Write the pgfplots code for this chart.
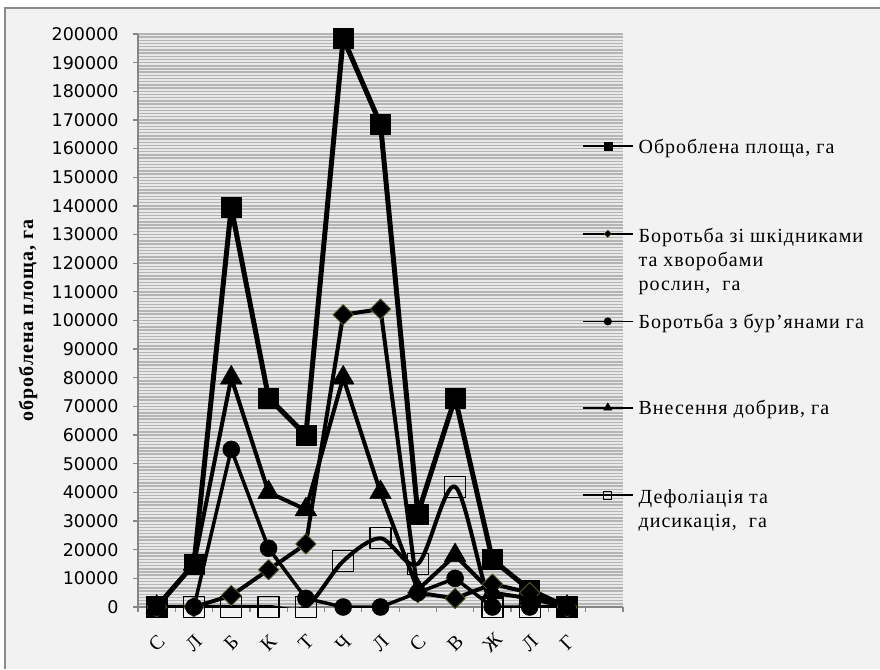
\documentclass[border=0pt]{standalone}
\usepackage{fontspec}
\setmainfont{Liberation Serif}
\newfontfamily\numfont{DejaVu Sans}
\newfontfamily\legendfont[LetterSpace=5]{Liberation Serif}
\newfontfamily\labelfont[LetterSpace=5]{Liberation Serif}
\usepackage{pgfplots}
\usepackage{pgfplotstable}
\pgfplotsset{compat=1.18}

\definecolor{chartbg}{HTML}{F2F2F2}
\definecolor{framegray}{HTML}{8C8C8C}
\definecolor{stripe}{HTML}{B4B4B4}
\definecolor{stripebg}{HTML}{E8E8E8}
\definecolor{axisgray}{HTML}{868686}
\definecolor{diamondedge}{HTML}{4F6228}

% multi-line legend text hanging from its first baseline
\newcommand\hang[1]{\raisebox{0pt}[\height][0pt]{\begin{tabular}[t]{@{}l@{}}#1\end{tabular}}}

% Monthly treated area, ha
\pgfplotstableread{
idx total pests weeds fert defol
0   0      0      0     0     0
1   15000  0      0     15000 0
2   139500 4000   55000 80000 0
3   73000  13000  20500 40000 0
4   60000  22000  3000  34000 0
5   198500 102000 0     80000 16000
6   168500 104000 0     40000 24000
7   32500  5000   5000  6000  15000
8   73000  3000   10000 18000 42000
9   16500  8000   0     5000  0
10  6000   5000   0     3000  0
11  0      0      0     0     0
}\areadata

\begin{document}
\begin{tikzpicture}
\useasboundingbox (0,0) rectangle (880pt,669pt);
\fill[white] (0,0) rectangle (880pt,669pt);
\fill[chartbg] (5pt,0) rectangle (880pt,661pt);
\draw[framegray, line width=2pt] (5pt,0) -- (5pt,661pt) -- (880pt,661pt);

\begin{axis}[
  at={(138pt,62pt)}, anchor=south west,
  scale only axis, width=485pt, height=573pt,
  xmin=-0.5, xmax=12.5, ymin=0, ymax=200000,
  axis background/.style={fill=stripebg},
  axis x line*=bottom, axis y line*=left,
  axis line style={axisgray, line width=1.3pt},
  tick style={axisgray, line width=1.3pt},
  tick align=outside,
  major tick length=5pt, minor tick length=5pt,
  ytick={0,10000,...,200000},
  yticklabels={0,10000,20000,30000,40000,50000,60000,70000,80000,90000,100000,
    110000,120000,130000,140000,150000,160000,170000,180000,190000,200000},
  minor y tick num=8,
  ymajorgrids, yminorgrids,
  major grid style={stripe, line width=1.4pt},
  minor grid style={stripe, line width=1.4pt},
  minor y tick style={draw=none},
  scaled y ticks=false,
  yticklabel style={font=\numfont\fontsize{17.5}{17.5}\selectfont, xshift=-11pt},
  xtick={0,...,11},
  xticklabels={С,Л,Б,К,Т,Ч,Л,С,В,Ж,Л,Г},
  minor xtick={-0.5,0.5,...,12.5},
  major x tick style={draw=none},
  xticklabel style={font=\fontsize{20}{20}\selectfont, yshift=-31pt, rotate=45, anchor=center},
  every axis y label/.style={at={(rel axis cs:0,0.5)}, xshift=-110pt, rotate=90, anchor=center},
  ylabel={оброблена площа, га},
  ylabel style={font=\labelfont\bfseries\fontsize{20}{20}\selectfont},
  line join=round,
  legend image code/.code={\draw[mark repeat=2,mark phase=2,#1] plot coordinates {(0pt,0pt) (25pt,0pt) (50pt,0pt)};},
  legend style={draw=none, fill=none, at={(0.9155,0.82)}, anchor=north west,
    inner sep=0pt, outer sep=0pt,
    font=\legendfont\fontsize{20}{24}\selectfont,
    cells={anchor=west},
    nodes={text depth=0pt, inner sep=2pt},
    row sep=68pt, column sep=3pt},
]
\addplot[black, line width=5pt, mark=square*, mark size=10pt,
  mark options={line width=0.5pt}, forget plot]
  table[x=idx, y=total]{\areadata};
\addplot[black, line width=4pt, mark=square*, mark size=7.2pt,
  mark options={rotate=45, fill=black, draw=diamondedge, line width=0.8pt}, forget plot]
  table[x=idx, y=pests]{\areadata};
\addplot[black, line width=3.5pt, mark=*, mark size=8.5pt,
  mark options={line width=0.5pt}, forget plot]
  table[x=idx, y=weeds]{\areadata};
\addplot[black, line width=4pt, mark=triangle*, mark size=12.5pt,
  mark options={line width=0.5pt}, forget plot]
  table[x=idx, y=fert]{\areadata};
\addplot[draw=black, line width=4pt, smooth, tension=0.5, mark=square, mark size=10.5pt,
  mark options={line width=1.2pt, fill=none}, forget plot]
  table[x=idx, y=defol]{\areadata};

\addlegendimage{black, line width=1.6pt, mark=square*, mark size=4pt, mark options={line width=0.4pt}}
\addlegendentry{Оброблена площа, га}
\addlegendimage{black, line width=1.6pt, mark=square*, mark size=2.6pt, mark options={rotate=45, fill=black, draw=diamondedge, line width=0.5pt}}
\addlegendentry{\hang{Боротьба зі шкідниками\\та хворобами\\рослин,\ \ га}}
\addlegendimage{black, line width=1.6pt, mark=*, mark size=3.8pt, mark options={line width=0.4pt}}
\addlegendentry{Боротьба з бур’янами га}
\addlegendimage{black, line width=1.6pt, mark=triangle*, mark size=5pt, mark options={line width=0.4pt}}
\addlegendentry{Внесення добрив, га}
\addlegendimage{black, line width=1.6pt, mark=square, mark size=4pt, mark options={line width=0.8pt, fill=white}}
\addlegendentry{\hang{Дефоліація та\\дисикація,\ \ га}}
\end{axis}
\end{tikzpicture}
\end{document}
